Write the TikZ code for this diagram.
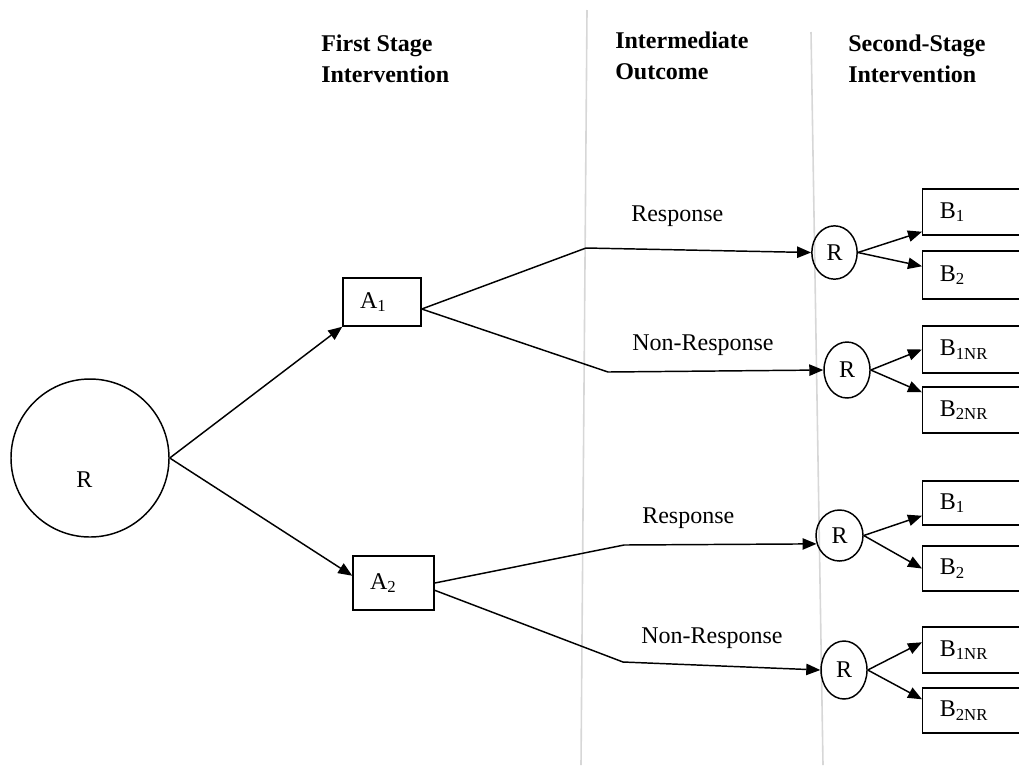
\documentclass[tikz,border=0pt]{standalone}
\usepackage{fontspec}
\setmainfont{Liberation Serif}
\usetikzlibrary{arrows.meta,shapes.geometric}

\begin{document}
\begin{tikzpicture}[x=0.75pt,y=0.75pt,yscale=-1,xscale=1,
  every node/.style={font=\fontsize{18}{21}\selectfont},
  arr/.style={-{Triangle[length=10.5pt,width=8.5pt]},line width=1.1pt},
  stagebox/.style={draw,line width=1.1pt,rectangle,inner xsep=12.75pt,inner ysep=0pt,align=left},
  rnode/.style={draw,line width=1.1pt,ellipse,inner sep=0pt},
  divider/.style={color={rgb, 255:red, 215; green, 215; blue, 215},line width=1.2pt},
  head/.style={font=\bfseries\fontsize{18}{21}\selectfont,anchor=base west,inner sep=0pt},
  txt/.style={anchor=base west,inner sep=0pt}]
\useasboundingbox (0,0) rectangle (1019,765);
\clip (0,0) rectangle (1019,765);

%Dividers
\draw [divider] (587,10) -- (581,765);
\draw [divider] (811,32) -- (823,765);

% Text Node
\draw (321,51) node [head] (h1a) {First Stage};
\draw (321,82) node [head] (h1b) {Intervention};
\draw (615,48) node [head] (h2a) {Intermediate};
\draw (615,79) node [head] (h2b) {Outcome};
\draw (848,51) node [head] (h3a) {Second-Stage};
\draw (848,82) node [head] (h3b) {Intervention};

%Randomisation
\node [rnode,minimum width=118.5pt,minimum height=118.5pt] (R0) at (90,458) {};
\node [txt] (R0t) at (76,487) {R};

%First stage
\node [stagebox,text width=33pt,minimum height=36pt] (A1) at (382,302) {A\textsubscript{1}};
\node [stagebox,text width=35.25pt,minimum height=40.5pt] (A2) at (393.5,583) {A\textsubscript{2}};

%Second randomisation
\node [rnode,minimum width=34pt,minimum height=40pt] (c1) at (834.5,252.5) {R};
\node [rnode,minimum width=34.5pt,minimum height=42pt] (c2) at (847,370) {R};
\node [rnode,minimum width=35.25pt,minimum height=38.25pt] (c3) at (839.5,535.5) {R};
\node [rnode,minimum width=34.5pt,minimum height=43.5pt] (c4) at (844,670) {R};

%Second stage
\node [stagebox,text width=79.5pt,minimum height=34.5pt,anchor=west] (B1a) at (922,212) {B\textsubscript{1}};
\node [stagebox,text width=79.5pt,minimum height=36pt,anchor=west] (B2a) at (922,275) {B\textsubscript{2}};
\node [stagebox,text width=79.5pt,minimum height=35.25pt,anchor=west] (B1NRa) at (922,349.5) {B\textsubscript{1NR}};
\node [stagebox,text width=79.5pt,minimum height=34.5pt,anchor=west] (B2NRa) at (922,410) {B\textsubscript{2NR}};
\node [stagebox,text width=79.5pt,minimum height=33pt,anchor=west] (B1b) at (922,503) {B\textsubscript{1}};
\node [stagebox,text width=79.5pt,minimum height=33.75pt,anchor=west] (B2b) at (922,568.5) {B\textsubscript{2}};
\node [stagebox,text width=79.5pt,minimum height=34.5pt,anchor=west] (B1NRb) at (922,650) {B\textsubscript{1NR}};
\node [stagebox,text width=79.5pt,minimum height=33.75pt,anchor=west] (B2NRb) at (922,710.5) {B\textsubscript{2NR}};

%Outcome labels
\node [txt] (resp1) at (631,221) {Response};
\node [txt] (nonr1) at (632,350) {Non-Response};
\node [txt] (resp2) at (642,523) {Response};
\node [txt] (nonr2) at (641,643) {Non-Response};

%Bends
\coordinate (k1) at (586,248);
\coordinate (k2) at (608,372);
\coordinate (k3) at (624,545);
\coordinate (k4) at (623,662);

%Arrows
\draw [arr] (R0.east) -- (A1.south west);
\draw [arr] (R0.east) -- (A2.170);
\draw [arr] (A1.-10) -- (k1) -- (c1.west);
\draw [arr] (A1.-10) -- (k2) -- (c2.west);
\draw [arr] (A2.east) -- (k3) -- (c3.200);
\draw [arr] (A2.-10) -- (k4) -- (c4.west);
\draw [arr] (c1.east) -- ([yshift=-3pt]B1a.south west);
\draw [arr] (c1.east) -- ([yshift=12pt]B2a.north west);
\draw [arr] (c2.east) -- (B1NRa.west);
\draw [arr] (c2.east) -- ([yshift=4.5pt]B2NRa.north west);
\draw [arr] (c3.east) -- ([yshift=-7.5pt]B1b.south west);
\draw [arr] (c3.east) -- (B2b.west);
\draw [arr] (c4.east) -- ([yshift=12pt]B1NRb.north west);
\draw [arr] (c4.east) -- ([yshift=9pt]B2NRb.north west);

\end{tikzpicture}
\end{document}
